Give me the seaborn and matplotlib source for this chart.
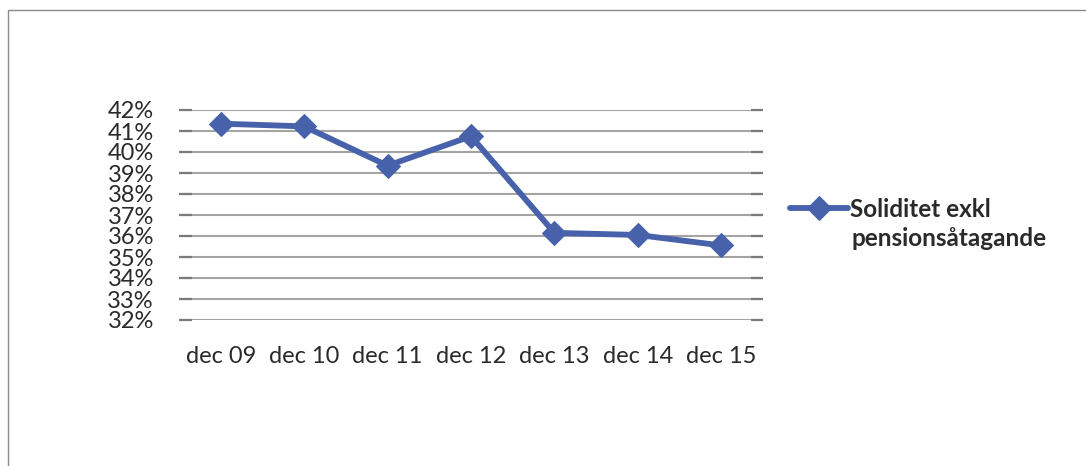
import pandas as pd
import seaborn as sns
import matplotlib.pyplot as plt
from matplotlib.patches import Rectangle
from matplotlib.ticker import FuncFormatter, MultipleLocator

# Data
perioder = ['dec 09', 'dec 10', 'dec 11', 'dec 12', 'dec 13', 'dec 14', 'dec 15']
soliditet = [41.35, 41.22, 39.35, 40.75, 36.15, 36.05, 35.55]
serie_namn = 'Soliditet exkl\npensionsåtagande'

df = pd.DataFrame({'period': perioder, 'soliditet': soliditet})

sns.set_theme(style='white')
plt.rcParams['font.family'] = ['Lato', 'DejaVu Sans']

fig = plt.figure(figsize=(10.86, 4.66), dpi=100)
ax = fig.add_axes([179 / 1086, 1 - 320 / 466, 584 / 1086, 210 / 466])

blue = '#4762ab'
rad1, rad2 = serie_namn.split('\n')
sns.lineplot(data=df, x='period', y='soliditet', sort=False, ax=ax,
             color=blue, linewidth=4.2, marker='D', markersize=12.5,
             markeredgecolor=blue, label=rad1)

ax.set_xlim(-0.5, len(perioder) - 0.5)
ax.set_ylim(32, 42)
ax.yaxis.set_major_locator(MultipleLocator(1))
ax.yaxis.set_major_formatter(FuncFormatter(lambda v, p: f'{v:.0f}%'))
ax.grid(axis='y', color='#a4a4a4', linewidth=1.5)
ax.set_axisbelow(True)
for s in ax.spines.values():
    s.set_visible(False)
ax.set_xlabel('')
ax.set_ylabel('')
ax.tick_params(axis='y', labelsize=17, pad=18, colors='#7a7a7a', labelcolor='#2a2a2a',
               left=True, right=True, direction='in', length=9, width=1.6)
ax.tick_params(axis='x', labelsize=17, pad=19, labelcolor='#2a2a2a', length=0)

txt = '#2a2a2a'
leg = ax.legend(loc='center left', bbox_to_anchor=(790 / 1086, 1 - 209 / 466),
                bbox_transform=fig.transFigure, frameon=False,
                prop={'weight': 'bold', 'size': 17.5}, handlelength=2.4,
                handletextpad=0.05, borderaxespad=0, borderpad=0)
for t in leg.get_texts():
    t.set_color(txt)
fig.text(851 / 1086, 1 - 238 / 466, rad2, fontsize=17.5, fontweight='bold',
         color=txt, va='center', ha='left')

# ram runt diagrammet
fig.patches.append(Rectangle((8 / 1086, -0.05), 1.2, 1 - 10 / 466 + 0.05,
                             transform=fig.transFigure, fill=False,
                             edgecolor='#8a8a8a', linewidth=1.0))

fig.savefig('out.png', dpi=100, facecolor='white')
